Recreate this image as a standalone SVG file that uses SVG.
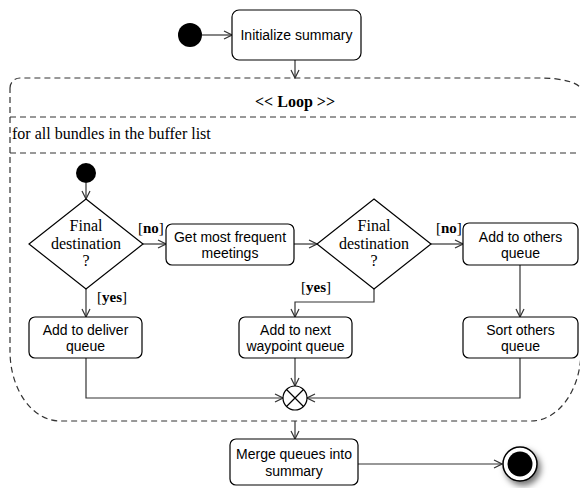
<svg xmlns="http://www.w3.org/2000/svg" width="580" height="488" viewBox="0 0 580 488">
<style>
.bx{fill:#fff;stroke:#000;stroke-width:1.2}
.dm{fill:#fff;stroke:#000;stroke-width:1.2}
.sans{font-family:"Liberation Sans",Arial,sans-serif;font-size:14px;fill:#000;text-anchor:middle}
.ser{font-family:"Liberation Serif","Times New Roman",serif;font-size:16px;fill:#000;text-anchor:middle}
.lbl{font-family:"Liberation Serif","Times New Roman",serif;font-size:15px;fill:#000}
.cn{fill:none;stroke:#333;stroke-width:1.2;marker-end:url(#arr)}
.dash{fill:none;stroke:#333;stroke-width:1.2;stroke-dasharray:6 4}
</style>
<defs>
<marker id="arr" markerUnits="userSpaceOnUse" markerWidth="10" markerHeight="10" refX="9" refY="5" orient="auto">
<path d="M1,1 L9,5 L1,9" fill="none" stroke="#333" stroke-width="1.2"/>
</marker>
<filter id="sh" x="-50%" y="-50%" width="200%" height="200%">
<feDropShadow dx="3" dy="4" stdDeviation="3" flood-color="#000" flood-opacity="0.55"/>
</filter>
</defs>

<g id="loop">
<path class="dash" d="M10,88 A10,10 0 0 1 20,78 L541,78 A40,12 0 0 1 581,90 L581,351 A50,70 0 0 1 531,421 L60,421 A50,70 0 0 1 10,351 Z"/>
<line class="dash" x1="10" y1="117" x2="581" y2="117"/>
<line class="dash" x1="10" y1="153" x2="581" y2="153"/>
<text x="295" y="107" style="font-family:'Liberation Serif','Times New Roman',serif;font-size:16px;font-weight:bold;text-anchor:middle">&lt;&lt; Loop &gt;&gt;</text>
<text x="12" y="139" style="font-family:'Liberation Serif','Times New Roman',serif;font-size:16px">for all bundles in the buffer list</text>
</g>

<g id="connectors">
<line class="cn" x1="202" y1="35" x2="232" y2="35"/>
<line class="cn" x1="295" y1="60" x2="295" y2="78"/>
<line class="cn" x1="86" y1="183" x2="86" y2="199"/>
<line class="cn" x1="143" y1="244" x2="166" y2="244"/>
<line class="cn" x1="294" y1="244" x2="317" y2="244"/>
<line class="cn" x1="431" y1="244" x2="463" y2="244"/>
<line class="cn" x1="86" y1="289" x2="86" y2="317"/>
<polyline class="cn" points="374,289 374,302 295,302 295,317"/>
<line class="cn" x1="520" y1="265" x2="520" y2="317"/>
<line class="cn" x1="295" y1="358" x2="295" y2="386"/>
<polyline class="cn" points="86,358 86,398 283,398"/>
<polyline class="cn" points="520,358 520,398 307,398"/>
<line class="cn" x1="295" y1="421" x2="295" y2="439"/>
<line class="cn" x1="358" y1="464" x2="502" y2="464"/>
<text class="lbl" x="138" y="233">[<tspan font-weight="bold">no</tspan>]</text>
<text class="lbl" x="436" y="233">[<tspan font-weight="bold">no</tspan>]</text>
<text class="lbl" x="97" y="302">[<tspan font-weight="bold">yes</tspan>]</text>
<text class="lbl" x="301" y="292">[<tspan font-weight="bold">yes</tspan>]</text>
</g>

<g id="start">
<circle cx="190" cy="35" r="12" fill="#000"/>
</g>
<g id="init">
<rect class="bx" x="232" y="10" width="129" height="50" rx="7"/>
<text class="sans" x="296.5" y="40">Initialize summary</text>
</g>
<g id="start2">
<circle cx="86" cy="173" r="10" fill="#000"/>
</g>
<g id="dec1">
<polygon class="dm" points="86,199 143,244 86,289 29,244"/>
<text class="ser" x="86" y="231">Final</text>
<text class="ser" x="86" y="249">destination</text>
<text class="ser" x="86" y="266">?</text>
</g>
<g id="getmost">
<rect class="bx" x="166" y="224" width="128" height="41" rx="6"/>
<text class="sans" x="230" y="242">Get most frequent</text>
<text class="sans" x="230" y="258">meetings</text>
</g>
<g id="dec2">
<polygon class="dm" points="374,199 431,244 374,289 317,244"/>
<text class="ser" x="374" y="231">Final</text>
<text class="ser" x="374" y="249">destination</text>
<text class="ser" x="374" y="266">?</text>
</g>
<g id="others">
<rect class="bx" x="463" y="223" width="115" height="42" rx="6"/>
<text class="sans" x="520.5" y="242">Add to others</text>
<text class="sans" x="520.5" y="258">queue</text>
</g>
<g id="deliver">
<rect class="bx" x="29" y="317" width="113" height="41" rx="6"/>
<text class="sans" x="85.5" y="335">Add to deliver</text>
<text class="sans" x="85.5" y="351">queue</text>
</g>
<g id="waypoint">
<rect class="bx" x="239" y="317" width="113" height="41" rx="6"/>
<text class="sans" x="295.5" y="335">Add to next</text>
<text class="sans" x="295.5" y="351">waypoint queue</text>
</g>
<g id="sort">
<rect class="bx" x="463" y="317" width="115" height="41" rx="6"/>
<text class="sans" x="520.5" y="335">Sort others</text>
<text class="sans" x="520.5" y="351">queue</text>
</g>
<g id="merge">
<circle cx="295" cy="398" r="12" fill="#fff" stroke="#000" stroke-width="1.2"/>
<path d="M286.5,389.5 L303.5,406.5 M303.5,389.5 L286.5,406.5" stroke="#000" stroke-width="1.2"/>
</g>
<g id="mergebox">
<rect class="bx" x="230" y="439" width="128" height="46" rx="6"/>
<text class="sans" x="294" y="459">Merge queues into</text>
<text class="sans" x="294" y="476">summary</text>
</g>
<g id="final">
<circle cx="520" cy="464" r="17" fill="#fff" stroke="#000" stroke-width="1.5" filter="url(#sh)"/>
<circle cx="520" cy="464" r="12.5" fill="#000"/>
</g>
</svg>
